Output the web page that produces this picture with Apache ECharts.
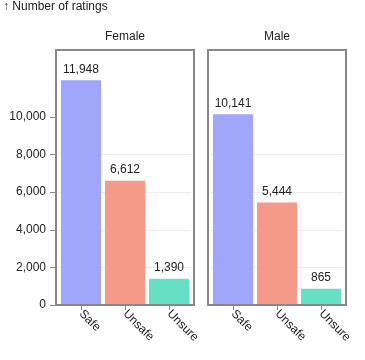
<!DOCTYPE html>
<html>
<head>
<meta charset="utf-8">
<script src="https://cdn.jsdelivr.net/npm/echarts@6/dist/echarts.min.js"></script>
<style>
  html, body { margin: 0; padding: 0; background: #fff; }
  #main { width: 365px; height: 360px; }
</style>
</head>
<body>
<div id="main"></div>
<script>
// data
const categories = ['Safe', 'Unsafe', 'Unsure'];
const panels = ['Female', 'Male'];
const femaleRatings = [11948, 6612, 1390];
const maleRatings = [10141, 5444, 865];
const yTicks = [0, 2000, 4000, 6000, 8000, 10000];
const barColors = ['#a0a6fa', '#f59a88', '#66e0c4'];

const seriesData = [femaleRatings, maleRatings];
const font = 'Liberation Sans, Arial, sans-serif';
const fmt = v => Number(v).toLocaleString('en-US');

// panel layout
const gridLefts = [59, 211];
const gridWidth = 132;
const gridTop = 50;
const gridHeight = 255;
const pad = 3;

var myChart = echarts.init(document.getElementById('main'));

let options = {
  animation: false,
  textStyle: { fontFamily: font },
  title: [
    {
      text: '↑ Number of ratings', left: 3, top: 1, padding: 0,
      textStyle: { fontSize: 12, fontWeight: 'normal', color: '#222', fontFamily: font }
    }
  ].concat(panels.map((p, i) => ({
    text: p, left: gridLefts[i] + gridWidth / 2, top: 31, padding: 0, textAlign: 'center',
    textStyle: { fontSize: 12, fontWeight: 'normal', color: '#222', fontFamily: font }
  }))),
  grid: panels.map((p, i) => ({
    left: gridLefts[i], top: gridTop, width: gridWidth, height: gridHeight
  })),
  xAxis: panels.map((p, i) => ({
    type: 'category',
    gridIndex: i,
    data: categories,
    axisLine: { show: true, lineStyle: { color: '#888', width: 2 } },
    axisTick: { show: true, alignWithLabel: true, length: 5, lineStyle: { color: '#888' } },
    axisLabel: { rotate: -45, fontSize: 12, color: '#222', margin: 7, fontFamily: font }
  })),
  yAxis: panels.map((p, i) => ({
    type: 'value',
    gridIndex: i,
    min: 0,
    max: 13560,
    interval: 2000,
    offset: pad,
    axisLine: { show: false },
    axisTick: { show: i === 0, length: 6, lineStyle: { color: '#888' }, customValues: yTicks },
    axisLabel: {
      show: i === 0, fontSize: 12, color: '#222', margin: 10, fontFamily: font,
      customValues: yTicks, formatter: fmt
    },
    splitLine: { show: true, showMinLine: false, showMaxLine: false, lineStyle: { color: '#ececec' } }
  })),
  graphic: panels.map((p, i) => ({
    type: 'rect',
    silent: true,
    z: 100,
    shape: { x: gridLefts[i] - pad, y: gridTop, width: gridWidth + 2 * pad, height: gridHeight },
    style: { fill: 'none', stroke: '#888', lineWidth: 2 }
  })),
  series: panels.map((p, i) => ({
    name: p,
    type: 'bar',
    xAxisIndex: i,
    yAxisIndex: i,
    barWidth: 40,
    data: seriesData[i].map((v, j) => ({ value: v, itemStyle: { color: barColors[j] } })),
    label: {
      show: true, position: 'top', distance: 5, fontSize: 12, color: '#222', fontFamily: font,
      formatter: d => fmt(d.value)
    }
  }))
};

myChart.setOption(options);
</script>
</body>
</html>
